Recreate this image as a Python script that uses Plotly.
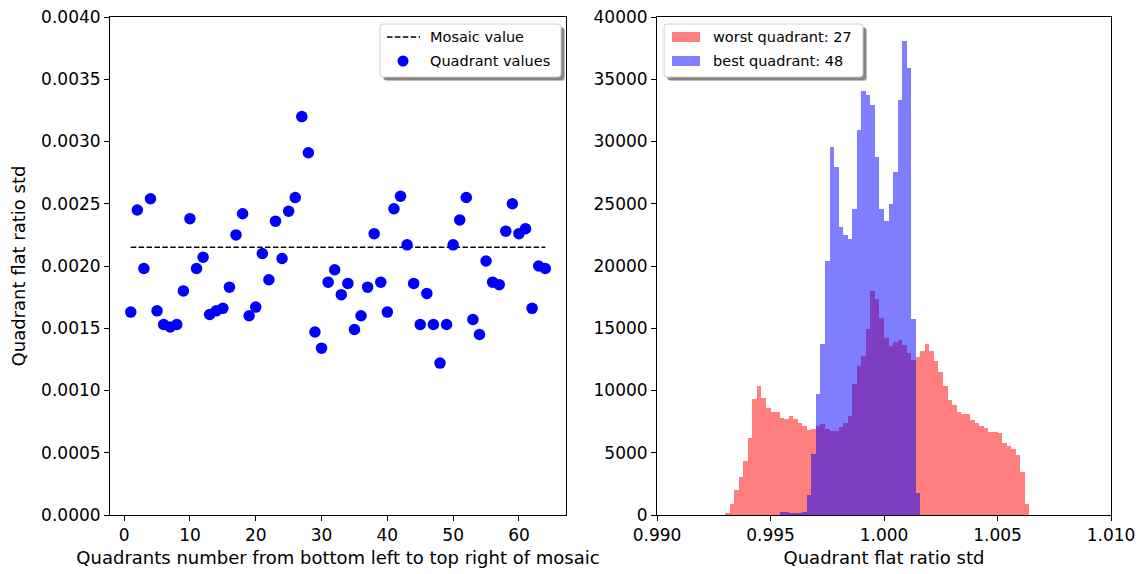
import numpy as np
import plotly.graph_objects as go

# ---- left panel: per-quadrant std of the flat ratio ----
quadrant_ids = list(range(1, 65))
quadrant_std = [
    0.00163, 0.00245, 0.00198, 0.00254, 0.00164, 0.00153, 0.00151, 0.00153,
    0.00180, 0.00238, 0.00198, 0.00207, 0.00161, 0.00164, 0.00166, 0.00183,
    0.00225, 0.00242, 0.00160, 0.00167, 0.00210, 0.00189, 0.00236, 0.00206,
    0.00244, 0.00255, 0.00320, 0.00291, 0.00147, 0.00134, 0.00187, 0.00197,
    0.00177, 0.00186, 0.00149, 0.00160, 0.00183, 0.00226, 0.00187, 0.00163,
    0.00246, 0.00256, 0.00217, 0.00186, 0.00153, 0.00178, 0.00153, 0.00122,
    0.00153, 0.00217, 0.00237, 0.00255, 0.00157, 0.00145, 0.00204, 0.00187,
    0.00185, 0.00228, 0.00250, 0.00226, 0.00230, 0.00166, 0.00200, 0.00198,
]
mosaic_std = 0.00215

# ---- right panel: flat-ratio histograms of two quadrants ----
bin_edges = np.linspace(0.99, 1.01, 101)
worst_first_bin = 15
worst_counts = [
    140, 860, 2030, 3030, 4310, 6180, 9290, 10360, 9370, 8570,
    8270, 8250, 7790, 7740, 7930, 7710, 7390, 7150, 6800, 6930,
    7170, 7280, 6880, 6750, 6750, 7070, 7360, 7980, 10550, 12000,
    12800, 14970, 18020, 17320, 15800, 14250, 13570, 13900, 14060, 13640,
    13040, 12450, 12700, 13170, 13710, 13170, 12390, 11510, 10390, 9240,
    8840, 8270, 8110, 8110, 7630, 7360, 7150, 7010, 6670, 6670,
    6600, 5810, 5540, 5270, 4820, 3430, 880,
]
best_first_bin = 27
best_counts = [
    250, 250, 100, 100, 120, 250, 1600, 4920, 9700, 13760,
    20400, 29530, 27980, 23160, 22490, 22170, 24580, 30920, 34080, 33710,
    32960, 28730, 24550, 23640, 24980, 27570, 33330, 38100, 35930, 15740,
    1780,
]
worst_label = "worst quadrant: 27"
best_label = "best quadrant: 48"

bin_centers = (bin_edges[:-1] + bin_edges[1:]) / 2
bin_width = bin_edges[1] - bin_edges[0]
worst_x = bin_centers[worst_first_bin:worst_first_bin + len(worst_counts)]
best_x = bin_centers[best_first_bin:best_first_bin + len(best_counts)]

# ---- page geometry (pixels) ----
W, H = 1145, 574
ML, MR, MT, MB = 110, 34, 17, 59
PW, PH = W - ML - MR, H - MT - MB
FONT = "DejaVu Sans"


def px(x):
    return (x - ML) / PW


def py(y):
    return (H - MB - y) / PH


fig = go.Figure()

fig.add_trace(go.Scatter(
    x=[quadrant_ids[0], quadrant_ids[-1]], y=[mosaic_std, mosaic_std],
    mode="lines", name="Mosaic value",
    line=dict(color="black", width=1.5, dash="5.5px,2.4px"),
    xaxis="x", yaxis="y",
))
fig.add_trace(go.Scatter(
    x=quadrant_ids, y=quadrant_std, mode="markers", name="Quadrant values",
    marker=dict(color="blue", size=11.5, line=dict(width=0)),
    xaxis="x", yaxis="y",
))

fig.add_trace(go.Bar(
    x=worst_x, y=worst_counts, width=bin_width, name=worst_label,
    marker=dict(color="red", line=dict(width=0)), opacity=0.5,
    xaxis="x2", yaxis="y2",
))
fig.add_trace(go.Bar(
    x=best_x, y=best_counts, width=bin_width, name=best_label,
    marker=dict(color="blue", line=dict(width=0)), opacity=0.5,
    xaxis="x2", yaxis="y2",
))

axis_common = dict(
    showline=True, linecolor="black", linewidth=1, mirror=True,
    ticks="outside", ticklen=5, tickwidth=1, tickcolor="black",
    showgrid=False, zeroline=False, automargin=False,
    tickfont=dict(family=FONT, size=17, color="black"),
)
title_font = dict(family=FONT, size=18, color="black")

fig.update_layout(
    width=W, height=H,
    margin=dict(l=ML, r=MR, t=MT, b=MB, autoexpand=False),
    paper_bgcolor="white", plot_bgcolor="white",
    barmode="overlay", bargap=0, showlegend=False,
    font=dict(family=FONT, size=16, color="black"),
    xaxis=dict(domain=(px(110), px(566)), range=[-2.15, 67.15],
               tickvals=list(range(0, 61, 10)),
               title=dict(text="Quadrants number from bottom left to top right of mosaic",
                          font=title_font, standoff=6),
               **axis_common),
    yaxis=dict(domain=(0, 1), range=[0, 0.004],
               tickvals=list(np.arange(0, 0.00401, 0.0005)), tickformat=".4f",
               title=dict(text="Quadrant flat ratio std", font=title_font, standoff=10),
               anchor="x", **axis_common),
    xaxis2=dict(domain=(px(657), px(1111)), range=[0.99, 1.01],
                tickvals=list(np.arange(0.99, 1.0101, 0.005)), tickformat=".3f",
                anchor="y2",
                title=dict(text="Quadrant flat ratio std", font=title_font, standoff=6),
                **axis_common),
    yaxis2=dict(domain=(0, 1), range=[0, 40000], tickvals=list(range(0, 40001, 5000)),
                tickformat="d", anchor="x2", **axis_common),
)


def rounded_box(x0, y0, x1, y1, r):
    """SVG path of a rounded rectangle given in pixels, returned in paper units."""
    def P(x, y):
        return f"{px(x):.6f},{py(y):.6f}"
    return (f"M {P(x0 + r, y0)} L {P(x1 - r, y0)} Q {P(x1, y0)} {P(x1, y0 + r)} "
            f"L {P(x1, y1 - r)} Q {P(x1, y1)} {P(x1 - r, y1)} "
            f"L {P(x0 + r, y1)} Q {P(x0, y1)} {P(x0, y1 - r)} "
            f"L {P(x0, y0 + r)} Q {P(x0, y0)} {P(x0 + r, y0)} Z")


def add_legend_frame(x0, y0, x1, y1):
    # soft drop shadow, then the white framed box
    for off, alpha in [(4, 0.25), (3, 0.3)]:
        fig.add_shape(type="path", xref="paper", yref="paper",
                      path=rounded_box(x0 + off, y0 + off, x1 + off, y1 + off, 3),
                      fillcolor=f"rgba(0,0,0,{alpha})", line=dict(width=0), layer="above")
    fig.add_shape(type="path", xref="paper", yref="paper",
                  path=rounded_box(x0, y0, x1, y1, 3),
                  fillcolor="white", line=dict(color="#cccccc", width=1), layer="above")


def add_legend_text(x, y, text):
    fig.add_annotation(x=px(x), y=py(y), xref="paper", yref="paper", text=text,
                       showarrow=False, xanchor="left", yanchor="middle",
                       font=dict(family=FONT, size=14.5, color="black"))


ROW1, ROW2 = 37, 61

# legend of the scatter panel
add_legend_frame(380, 24, 561, 77)
fig.add_shape(type="line", xref="paper", yref="paper",
              x0=px(387), x1=px(420), y0=py(ROW1), y1=py(ROW1),
              line=dict(color="black", width=1.5, dash="5.5px,2.4px"), layer="above")
fig.add_shape(type="circle", xref="paper", yref="paper",
              x0=px(397.5), x1=px(408.5), y0=py(ROW2 - 5.5), y1=py(ROW2 + 5.5),
              fillcolor="blue", line=dict(width=0), layer="above")
add_legend_text(428, ROW1, "Mosaic value")
add_legend_text(428, ROW2, "Quadrant values")

# legend of the histogram panel
add_legend_frame(664, 24, 863, 77)
fig.add_shape(type="rect", xref="paper", yref="paper",
              x0=px(672), x1=px(700), y0=py(ROW1 - 5), y1=py(ROW1 + 5),
              fillcolor="rgba(255,0,0,0.5)", line=dict(width=0), layer="above")
fig.add_shape(type="rect", xref="paper", yref="paper",
              x0=px(672), x1=px(700), y0=py(ROW2 - 5), y1=py(ROW2 + 5),
              fillcolor="rgba(0,0,255,0.5)", line=dict(width=0), layer="above")
add_legend_text(711, ROW1, worst_label)
add_legend_text(711, ROW2, best_label)

fig.write_html("out.html")
